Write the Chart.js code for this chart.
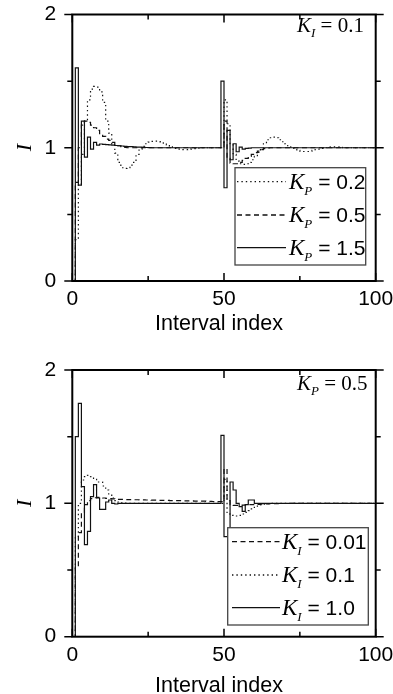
<!DOCTYPE html>
<html><head><meta charset="utf-8">
<script src="https://cdn.jsdelivr.net/npm/chart.js@4.4.1/dist/chart.umd.min.js"></script>
<style>
html,body{margin:0;padding:0;background:#fff;width:393px;height:694px;overflow:hidden;position:relative;}
canvas{position:absolute;left:0;}
#c1{top:0}
#c2{top:347px}
svg{position:absolute;left:0;top:0}
</style>
</head><body>
<canvas id="c1" width="393" height="347"></canvas>
<canvas id="c2" width="393" height="347"></canvas>
<svg id="ov" width="393" height="694" xmlns="http://www.w3.org/2000/svg">
  <!-- annotations -->
  <text x="297" y="32" font-family="Liberation Serif" font-size="21" fill="#000"><tspan font-style="italic">K</tspan><tspan font-style="italic" font-size="13" dy="5">I</tspan><tspan dy="-5"> = 0.1</tspan></text>
  <text x="297" y="389.5" font-family="Liberation Serif" font-size="21" fill="#000"><tspan font-style="italic">K</tspan><tspan font-style="italic" font-size="13" dy="5">P</tspan><tspan dy="-5"> = 0.5</tspan></text>
  <!-- y titles -->
  <text transform="translate(30.7,147.7) rotate(-90)" text-anchor="middle" font-family="Liberation Serif" font-style="italic" font-size="22" fill="#000">I</text>
  <text transform="translate(30.7,503.3) rotate(-90)" text-anchor="middle" font-family="Liberation Serif" font-style="italic" font-size="22" fill="#000">I</text>
  <!-- x titles -->
  <text x="219" y="330" text-anchor="middle" font-family="Liberation Sans" font-size="21.5" fill="#000">Interval index</text>
  <text x="219" y="691.5" text-anchor="middle" font-family="Liberation Sans" font-size="21.5" fill="#000">Interval index</text>
  <!-- legend top -->
  <rect x="235" y="167.7" width="130.7" height="97.3" fill="#fff" stroke="#444" stroke-width="1.3"/>
  <line x1="237" y1="181.7" x2="286" y2="181.7" stroke="#111" stroke-width="1.3" stroke-dasharray="1.4 3"/>
  <line x1="237" y1="215" x2="286" y2="215" stroke="#111" stroke-width="1.3" stroke-dasharray="5 3.5"/>
  <line x1="237" y1="247.7" x2="286" y2="247.7" stroke="#111" stroke-width="1.3"/>
  <text x="289" y="189" font-family="Liberation Sans" font-size="21" fill="#000"><tspan font-family="Liberation Serif" font-style="italic" font-size="23">K</tspan><tspan font-family="Liberation Serif" font-style="italic" font-size="13" dy="6">P</tspan><tspan dy="-6"> = 0.2</tspan></text>
  <text x="289" y="222.3" font-family="Liberation Sans" font-size="21" fill="#000"><tspan font-family="Liberation Serif" font-style="italic" font-size="23">K</tspan><tspan font-family="Liberation Serif" font-style="italic" font-size="13" dy="6">P</tspan><tspan dy="-6"> = 0.5</tspan></text>
  <text x="289" y="255" font-family="Liberation Sans" font-size="21" fill="#000"><tspan font-family="Liberation Serif" font-style="italic" font-size="23">K</tspan><tspan font-family="Liberation Serif" font-style="italic" font-size="13" dy="6">P</tspan><tspan dy="-6"> = 1.5</tspan></text>
  <!-- legend bottom -->
  <rect x="227.7" y="527.7" width="140.6" height="97.3" fill="#fff" stroke="#444" stroke-width="1.3"/>
  <line x1="232" y1="541.7" x2="280" y2="541.7" stroke="#111" stroke-width="1.3" stroke-dasharray="5 3.5"/>
  <line x1="232" y1="575" x2="280" y2="575" stroke="#111" stroke-width="1.3" stroke-dasharray="1.4 3"/>
  <line x1="232" y1="607.7" x2="280" y2="607.7" stroke="#111" stroke-width="1.3"/>
  <text x="282" y="549" font-family="Liberation Sans" font-size="21" fill="#000"><tspan font-family="Liberation Serif" font-style="italic" font-size="23">K</tspan><tspan font-family="Liberation Serif" font-style="italic" font-size="13" dy="6">I</tspan><tspan dy="-6"> = 0.01</tspan></text>
  <text x="282" y="582.3" font-family="Liberation Sans" font-size="21" fill="#000"><tspan font-family="Liberation Serif" font-style="italic" font-size="23">K</tspan><tspan font-family="Liberation Serif" font-style="italic" font-size="13" dy="6">I</tspan><tspan dy="-6"> = 0.1</tspan></text>
  <text x="282" y="615" font-family="Liberation Sans" font-size="21" fill="#000"><tspan font-family="Liberation Serif" font-style="italic" font-size="23">K</tspan><tspan font-family="Liberation Serif" font-style="italic" font-size="13" dy="6">I</tspan><tspan dy="-6"> = 1.0</tspan></text>
</svg>
<script>
// ---------- data ----------
const intervalIndex = Array.from({length:101},(_, i)=>i);
const xTickLabels = [0, 50, 100];
const xMinorTicks = [25, 75];
const yTickLabels = [0, 1, 2];
const yMinorTicks = [0.5, 1.5];

// top panel (K_I = 0.1)
const topKp02 = [
 0,0.31,0.72,0.95,1.2,1.36,1.44,1.46,1.455,1.42,
 1.34,1.2,1.11,1.02,0.96,0.89,0.85,0.845,0.85,0.87,
 0.89,0.95,0.99,1.01,1.03,1.042,1.048,1.05,1.046,1.042,
 1.035,1.022,1.012,1.003,0.996,0.99,0.986,0.985,0.986,0.989,
 0.993,0.997,1,1,1,1,1,1,1,1,
 1.36,1.18,1.03,0.95,0.9,0.88,0.875,0.88,0.89,0.91,
 0.935,0.965,0.995,1.03,1.06,1.075,1.08,1.075,1.06,1.045,
 1.03,1.015,1.0,0.99,0.98,0.975,0.972,0.972,0.975,0.98,
 0.985,0.99,0.995,1.0,1.004,1.006,1.006,1.005,1.003,1.0,
 1,1,1,1,1,1,1,1,1,1,1];
const topKp05 = [
 0,0.74,1.0,1.17,1.2,1.19,1.17,1.15,1.13,1.105,
 1.085,1.065,1.055,1.04,1.025,1.015,1.008,1.003,1,1,
 1,1,1,1,1,1,1,1,1,1,
 1,1,1,1,1,1,1,1,1,1,
 1,1,1,1,1,1,1,1,1,1,
 1.2,0.92,0.885,0.88,0.88,0.89,0.905,0.92,0.935,0.95,
 0.963,0.975,0.986,0.994,0.998,1,1,1,1,1,
 1,1,1,1,1,1,1,1,1,1,
 1,1,1,1,1,1,1,1,1,1,
 1,1,1,1,1,1,1,1,1,1,1];
const topKp15 = [
 0,1.6,0.72,1.2,0.93,1.08,0.99,1.04,1.02,1.028,
 1.025,1.023,1.021,1.019,1.017,1.015,1.013,1.011,1.009,1.008,
 1.006,1.005,1.004,1.003,1.002,1.001,1,1,1,1,
 1,1,1,1,1,1,1,1,1,1,
 1,1,1,1,1,1,1,1,1,1.5,
 0.7,1.13,0.91,1.03,0.97,1.005,0.99,0.995,0.997,1,
 1,1,1,1,1,1,1,1,1,1,
 1,1,1,1,1,1,1,1,1,1,
 1,1,1,1,1,1,1,1,1,1,
 1,1,1,1,1,1,1,1,1,1,1];

// bottom panel (K_P = 0.5)
const botKi001 = [
 0,0.52,0.78,0.93,0.99,1.02,1.035,1.042,1.045,1.044,
 1.04,1.038,1.036,1.034,1.032,1.03,1.03,1.029,1.028,1.028,
 1.027,1.027,1.026,1.026,1.025,1.025,1.024,1.024,1.023,1.023,
 1.022,1.022,1.021,1.021,1.02,1.02,1.019,1.019,1.018,1.018,
 1.017,1.017,1.016,1.016,1.015,1.015,1.014,1.014,1.013,1.013,
 1.26,1.02,0.99,0.985,0.985,0.985,0.987,0.988,0.99,0.991,
 0.992,0.993,0.994,0.995,0.996,0.997,0.997,0.998,0.998,0.999,
 0.999,1,1,1,1,1,1,1,1,1,
 1,1,1,1,1,1,1,1,1,1,
 1,1,1,1,1,1,1,1,1,1,1];
const botKi01 = [
 0,0.75,1.0,1.175,1.2,1.21,1.2,1.18,1.16,1.16,
 1.13,1.1,1.07,1.04,1.02,1.01,1.004,1.001,1,1,
 1,1,1,1,1,1,1,1,1,1,
 1,1,1,1,1,1,1,1,1,1,
 1,1,1,1,1,1,1,1,1,1,
 1.18,0.92,0.91,0.905,0.905,0.91,0.92,0.932,0.945,0.958,
 0.97,0.98,0.988,0.994,0.998,1,1,1,1,1,
 1,1,1,1,1,1,1,1,1,1,
 1,1,1,1,1,1,1,1,1,1,
 1,1,1,1,1,1,1,1,1,1,1];
const botKi10 = [
 0,1.5,1.75,1.125,0.69,0.79,1.05,1.14,1.04,0.955,
 0.955,1.01,1.025,1.0,0.995,1,1,1,1,1,
 1,1,1,1,1,1,1,1,1,1,
 1,1,1,1,1,1,1,1,1,1,
 1,1,1,1,1,1,1,1,1,1.51,
 0.75,0.75,1.16,1.1,1.0,0.975,0.94,0.99,1.025,1.025,
 1,1,1,1,1,1,1,1,1,1,
 1,1,1,1,1,1,1,1,1,1,
 1,1,1,1,1,1,1,1,1,1,
 1,1,1,1,1,1,1,1,1,1,1];

// ---------- styles ----------
const DOT = [1.4, 3], DASH = [5, 3.5], SOLID = [];
const LINE_COLOR = '#111';

const framePlugin = {
  id: 'frame',
  afterDatasetsDraw(chart) {
    const {ctx, chartArea: a, scales: {x, y}} = chart;
    ctx.save();
    ctx.strokeStyle = '#000';
    ctx.lineWidth = 1.5;
    ctx.beginPath();
    const vt = (v, len) => {
      const px = x.getPixelForValue(v);
      ctx.moveTo(px, a.bottom); ctx.lineTo(px, a.bottom - len);
      ctx.moveTo(px, a.top); ctx.lineTo(px, a.top + len);
    };
    const ht = (v, len) => {
      const py = y.getPixelForValue(v);
      ctx.moveTo(a.left, py); ctx.lineTo(a.left - len, py);
      ctx.moveTo(a.right, py); ctx.lineTo(a.right + len, py);
    };
    xTickLabels.forEach(v => vt(v, 8));
    xMinorTicks.forEach(v => vt(v, 5));
    yTickLabels.forEach(v => ht(v, 8));
    yMinorTicks.forEach(v => ht(v, 5));
    ctx.stroke();
    ctx.lineWidth = 2;
    ctx.strokeRect(a.left, a.top, a.right - a.left, a.bottom - a.top);
    ctx.restore();
  }
};

function makeChart(id, series, plotTop, plotBottom) {
  const H = 347;
  return new Chart(document.getElementById(id), {
    type: 'line',
    data: {
      datasets: series.map(s => ({
        label: s.label,
        data: intervalIndex.map((xv, i) => ({x: xv, y: s.values[i]})),
        stepped: 'before',
        borderColor: LINE_COLOR,
        borderWidth: 1.2,
        borderDash: s.dash,
        pointRadius: 0,
        fill: false,
        tension: 0
      }))
    },
    options: {
      responsive: false,
      animation: false,
      devicePixelRatio: 1,
      layout: {padding: {left: 0, right: 393 - 375.7, top: plotTop, bottom: 0}},
      plugins: {legend: {display: false}, tooltip: {enabled: false}},
      scales: {
        x: {
          type: 'linear', min: 0, max: 100,
          afterBuildTicks: s => { s.ticks = xTickLabels.map(v => ({value: v})); },
          afterFit: s => { s.height = H - plotBottom; s.paddingLeft = 0; s.paddingRight = 0; },
          grid: {display: false, drawTicks: false},
          border: {display: false},
          ticks: {color: '#000', padding: 5.6, maxRotation: 0, autoSkip: false,
                  font: {family: 'Liberation Sans', size: 21, lineHeight: 1.2},
                  callback: v => String(v)}
        },
        y: {
          type: 'linear', min: 0, max: 2,
          afterBuildTicks: s => { s.ticks = yTickLabels.map(v => ({value: v})); },
          afterFit: s => { s.width = 72.3; s.paddingTop = 0; s.paddingBottom = 0; },
          grid: {display: false, drawTicks: false},
          border: {display: false},
          ticks: {color: '#000', padding: 16, autoSkip: false,
                  font: {family: 'Liberation Sans', size: 21, lineHeight: 1.2},
                  callback: v => String(v)}
        }
      }
    },
    plugins: [framePlugin]
  });
}

makeChart('c1', [
  {label: 'K_P = 0.2', values: topKp02, dash: DOT},
  {label: 'K_P = 0.5', values: topKp05, dash: DASH},
  {label: 'K_P = 1.5', values: topKp15, dash: SOLID}
], 14.5, 281);

makeChart('c2', [
  {label: 'K_I = 0.01', values: botKi001, dash: DASH},
  {label: 'K_I = 0.1', values: botKi01, dash: DOT},
  {label: 'K_I = 1.0', values: botKi10, dash: SOLID}
], 370 - 347, 636.7 - 347);
</script>
</body></html>
